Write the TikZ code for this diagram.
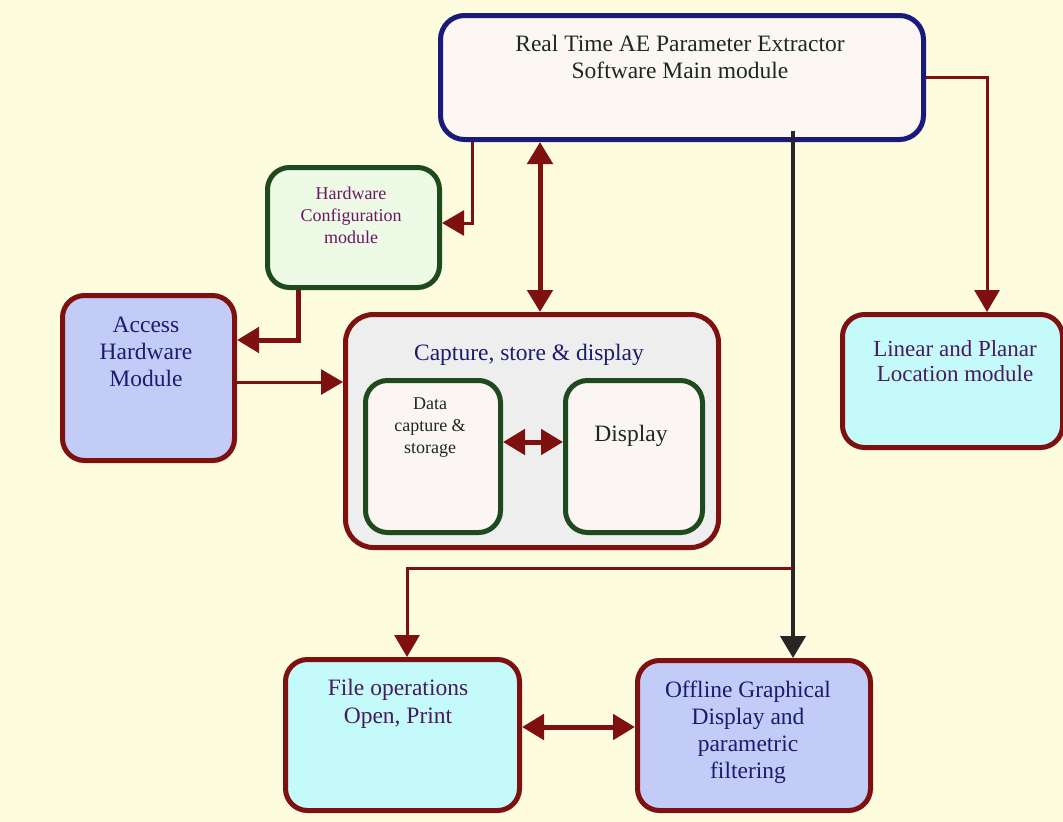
\documentclass[tikz,border=0pt]{standalone}
\usepackage{fontspec}
\setmainfont{Liberation Serif}
\usetikzlibrary{arrows.meta}
\definecolor{bg}{HTML}{FEFCDF}
\definecolor{dred}{HTML}{7E1010}
\definecolor{navy}{HTML}{1A1A7C}
\definecolor{dgreen}{HTML}{1E4A1E}
\definecolor{mainfill}{HTML}{FCF7F3}
\definecolor{hwfill}{HTML}{EDFBE6}
\definecolor{lav}{HTML}{C3CCF7}
\definecolor{cyanf}{HTML}{C4FAFA}
\definecolor{capfill}{HTML}{EEEEEE}
\definecolor{subfill}{HTML}{FBF6F3}
\definecolor{tdark}{HTML}{1C2A1C}
\definecolor{tpurple}{HTML}{6E1464}
\definecolor{tnavy}{HTML}{1C1C6E}
\definecolor{tplum}{HTML}{4A1A5E}
\begin{document}
\begin{tikzpicture}[x=1pt,y=-1pt,
  box/.style={draw, line width=5pt, rounded corners=22pt, inner sep=0pt, anchor=north west},
  txt/.style={align=center, inner sep=0pt, font=\fontsize{23.5}{27}\selectfont},
  smalltxt/.style={align=center, inner sep=0pt, font=\fontsize{18}{22}\selectfont},
  tip/.style={-{Triangle[length=22pt,width=25pt]}},
  dtip/.style={{Triangle[length=22pt,width=25pt]}-{Triangle[length=22pt,width=25pt]}},
  thin/.style={draw=dred, line width=3pt},
  thick/.style={draw=dred, line width=5pt}
]
\useasboundingbox[fill=bg] (0,0) rectangle (1063,822);

% boxes
\node[box, draw=navy, fill=mainfill, rounded corners=24pt, minimum width=483pt, minimum height=124pt] (main) at (438,13) {};
\node[box, draw=dgreen, fill=hwfill, minimum width=172pt, minimum height=120pt] (hw) at (265,165) {};
\node[box, draw=dred, fill=lav, minimum width=172pt, minimum height=165pt] (acc) at (60,293) {};
\node[box, draw=dred, fill=capfill, rounded corners=28pt, minimum width=373pt, minimum height=233pt] (cap) at (343,312) {};
\node[box, draw=dgreen, fill=subfill, minimum width=135pt, minimum height=152pt] (data) at (363,378) {};
\node[box, draw=dgreen, fill=subfill, minimum width=137pt, minimum height=152pt] (disp) at (563,378) {};
\node[box, draw=dred, fill=cyanf, minimum width=220pt, minimum height=133pt] (lin) at (840,312) {};
\node[box, draw=dred, fill=cyanf, minimum width=234pt, minimum height=151pt] (file) at (283,657) {};
\node[box, draw=dred, fill=lav, minimum width=233pt, minimum height=150pt] (off) at (635,658) {};

% texts
\node[txt, text=tdark] (maintxt) at (680,57) {Real Time AE Parameter Extractor\\Software Main module};
\node[smalltxt, text=tpurple] (hwtxt) at (351,215) {Hardware\\Configuration\\module};
\node[txt, text=tnavy] (acctxt) at (146,352) {Access\\Hardware\\Module};
\node[txt, text=tnavy] (captxt) at (529,355) {Capture, store \& display};
\node[smalltxt, text=tdark] (datatxt) at (430,428) {Data\\capture \&\\storage};
\node[txt, text=tdark] (disptxt) at (631,436) {Display};
\node[txt, text=tplum, font=\fontsize{23}{25}\selectfont] (lintxt) at (955,361) {Linear and Planar\\Location module};
\node[txt, text=tplum, font=\fontsize{23.5}{28}\selectfont] (filetxt) at (398,704) {File operations\\Open, Print};
\node[txt, text=tnavy] (offtxt) at (748,732) {Offline Graphical\\Display and\\parametric\\filtering};

% bend coordinates
\coordinate (xa) at (472,223);
\coordinate (xb) at (987,77);
\coordinate (xc) at (298,340);
\coordinate (yd) at (0,382);
\coordinate (xe) at (540,0);
\coordinate (yf) at (0,442);
\coordinate (xg) at (793,131);
\coordinate (xh) at (793,568);
\coordinate (xi) at (407,568);
\coordinate (yj) at (0,727);

% connectors
\draw[thin, tip] (xa |- main.south) -- (xa) -- (xa -| hw.east);
\draw[thin, tip] (xb -| main.east) -- (xb) -- (xb |- lin.north);
\draw[thick, dtip] (xe |- main.south) -- (xe |- cap.north);
\draw[thick, tip] (xc |- hw.south) -- (xc) -- (xc -| acc.east);
\draw[thin, tip] (yd -| acc.east) -- (yd -| cap.west);
\draw[thick, dtip] (yf -| data.east) -- (yf -| disp.west);
\draw[draw=black!85, line width=4pt, tip] (xg) -- (xg |- off.north);
\draw[thin, tip] (xh) -- (xi) -- (xi |- file.north);
\draw[thick, dtip] (yj -| file.east) -- (yj -| off.west);
\end{tikzpicture}
\end{document}
